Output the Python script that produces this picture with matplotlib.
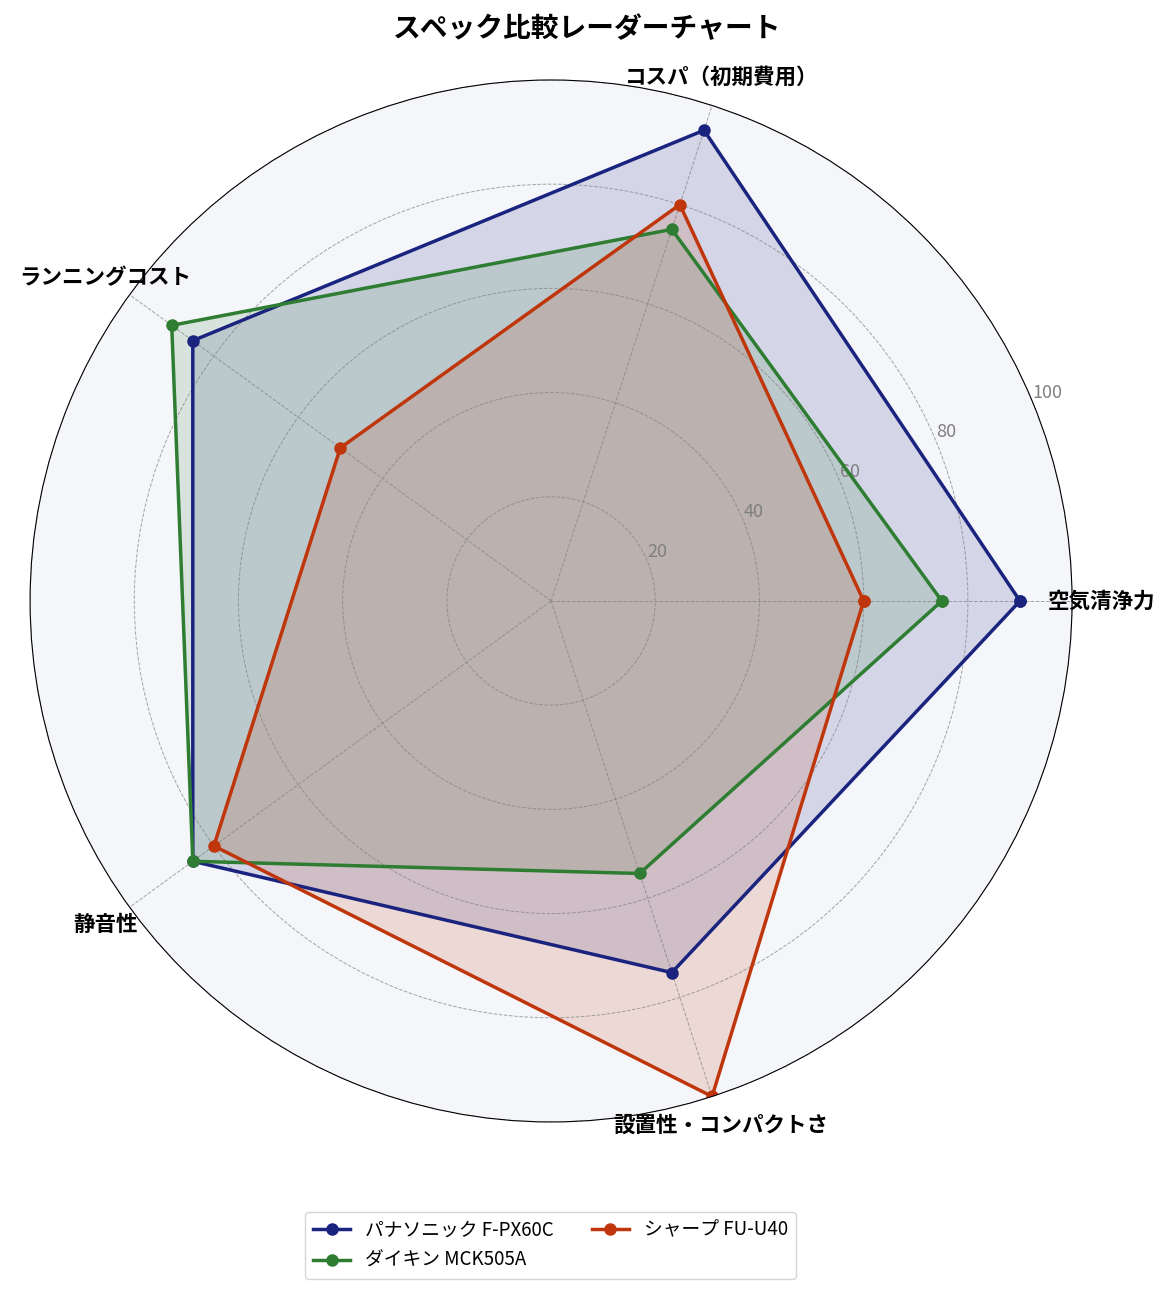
import matplotlib.pyplot as plt
import numpy as np

plt.rcParams['font.family'] = ['Noto Sans CJK JP', 'DejaVu Sans']

categories = ['空気清浄力', 'コスパ（初期費用）', 'ランニングコスト', '静音性', '設置性・コンパクトさ']
models = ['パナソニック F-PX60C', 'ダイキン MCK505A', 'シャープ FU-U40']
panasonic = [90, 95, 85, 85, 75]
daikin = [75, 75, 90, 85, 55]
sharp = [60, 80, 50, 80, 100]
colors = ['#1a237e', '#2e7d32', '#bf360c']

n = len(categories)
angles = np.linspace(0, 2 * np.pi, n, endpoint=False).tolist()
angles += angles[:1]

fig = plt.figure(figsize=(11.74, 12.92), dpi=100)
ax = fig.add_axes([0.0256, 0.1316, 0.8876, 0.8065], polar=True)
ax.set_facecolor('#f5f6fa')

for name, vals, c in zip(models, [panasonic, daikin, sharp], colors):
    v = vals + vals[:1]
    ax.plot(angles, v, color=c, linewidth=2.5, marker='o', markersize=8, label=name)
    ax.fill(angles, v, color=c, alpha=0.15)

ax.set_ylim(0, 100)
ax.set_yticks([20, 40, 60, 80, 100])
ax.set_yticklabels(['20', '40', '60', '80', '100'], color='gray', fontsize=13)
ax.set_rlabel_position(22.5)
ax.set_xticks(angles[:-1])
ax.set_xticklabels(categories, fontsize=15.5, fontweight='bold')
ax.tick_params(axis='x', pad=11)
ax.grid(color='gray', linestyle='--', linewidth=0.7, alpha=0.7)

fig.suptitle('スペック比較レーダーチャート', fontsize=20, fontweight='bold', y=0.988)
fig.legend(loc='center', bbox_to_anchor=(0.469, 0.036), ncol=2, fontsize=13.5)

fig.savefig('out.png', dpi=100)
